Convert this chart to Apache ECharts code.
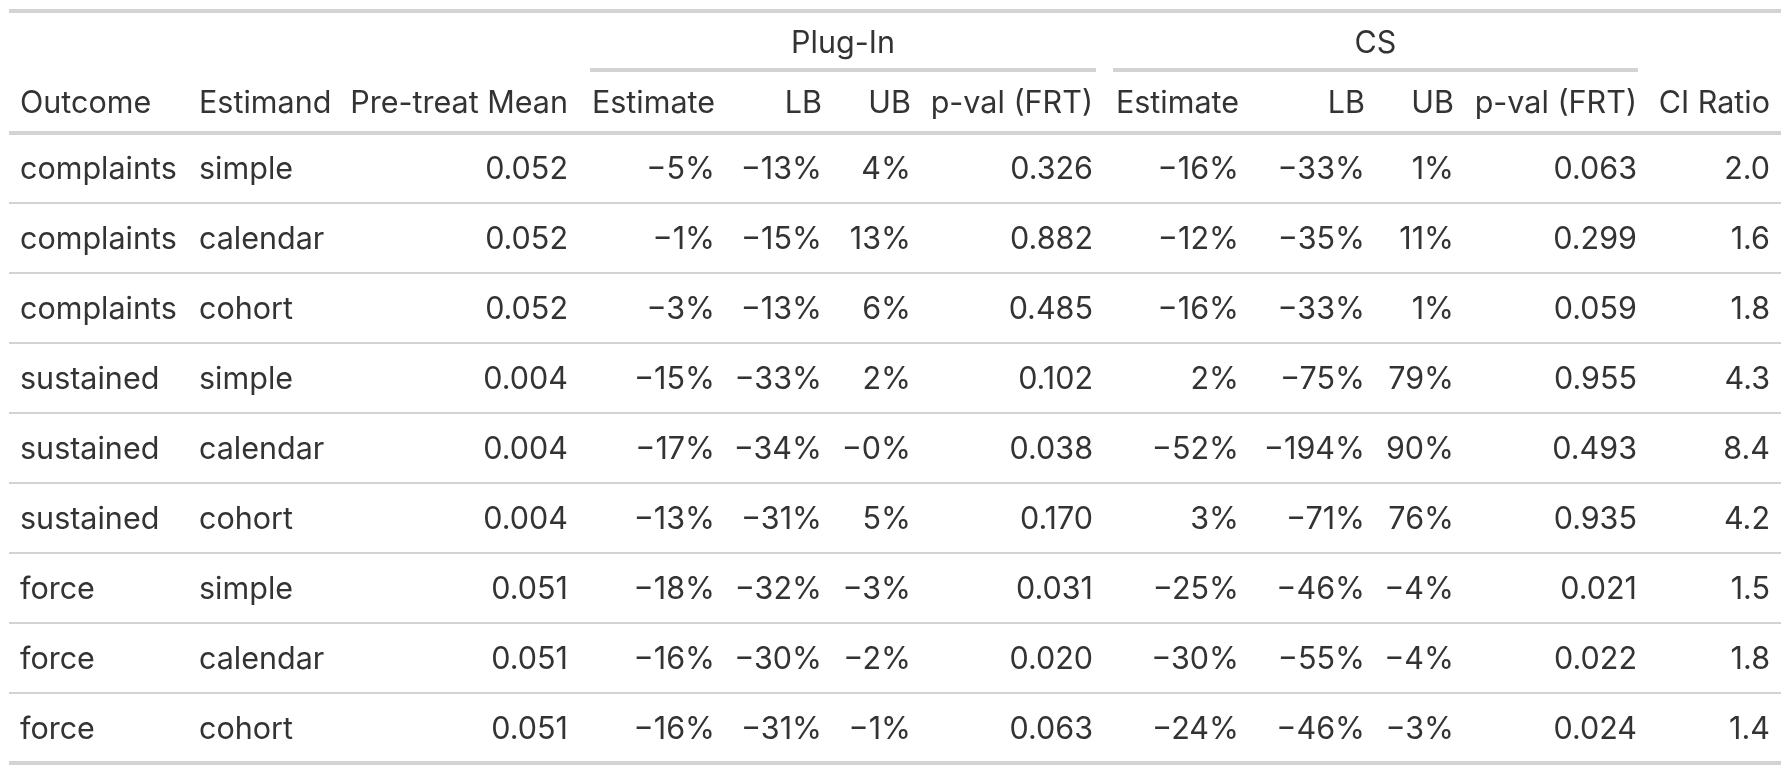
<!DOCTYPE html>
<html>
<head>
<meta charset="utf-8">
<script src="https://cdn.jsdelivr.net/npm/echarts@6/dist/echarts.min.js"></script>
<style>
  html, body { margin: 0; padding: 0; background: #fff; }
  #main { width: 1790px; height: 774px; }
</style>
</head>
<body>
<div id="main"></div>
<script>
// table values
const outcomes = ['complaints', 'complaints', 'complaints', 'sustained', 'sustained', 'sustained', 'force', 'force', 'force'];
const estimands = ['simple', 'calendar', 'cohort', 'simple', 'calendar', 'cohort', 'simple', 'calendar', 'cohort'];
const preMean = [0.052, 0.052, 0.052, 0.004, 0.004, 0.004, 0.051, 0.051, 0.051];
const plugEst = [-5, -1, -3, -15, -17, -13, -18, -16, -16];
const plugLB = [-13, -15, -13, -33, -34, -31, -32, -30, -31];
const plugUB = [4, 13, 6, 2, -0, 5, -3, -2, -1];
const plugP = [0.326, 0.882, 0.485, 0.102, 0.038, 0.170, 0.031, 0.020, 0.063];
const csEst = [-16, -12, -16, 2, -52, 3, -25, -30, -24];
const csLB = [-33, -35, -33, -75, -194, -71, -46, -55, -46];
const csUB = [1, 11, 1, 79, 90, 76, -4, -4, -3];
const csP = [0.063, 0.299, 0.059, 0.955, 0.493, 0.935, 0.021, 0.022, 0.024];
const ciRatio = [2.0, 1.6, 1.8, 4.3, 8.4, 4.2, 1.5, 1.8, 1.4];

const spanners = ['Plug-In', 'CS'];
const colLabels = ['Outcome', 'Estimand', 'Pre-treat Mean', 'Estimate', 'LB', 'UB', 'p-val (FRT)',
  'Estimate', 'LB', 'UB', 'p-val (FRT)', 'CI Ratio'];

// layout (pixels on the x axis, row units on the y axis)
const colX = [20, 199, 568, 715, 822, 911, 1093, 1239, 1365, 1454, 1637, 1770];
const colAlign = ['left', 'left', 'right', 'right', 'right', 'right', 'right', 'right', 'right', 'right', 'right', 'right'];
const spanX = [[590, 1096], [1113, 1638]];
const tableX = [9, 1781];
const rowTop = 168, rowH = 70;
const headerRow = -0.95, spannerRow = -1.8, spannerLineRow = -1.4, topRow = -2.243;

const pct = v => ((v < 0 || Object.is(v, -0)) ? '\u2212' : '') + Math.abs(v) + '%';

const cols = [
  outcomes, estimands,
  preMean.map(v => v.toFixed(3)),
  plugEst.map(pct), plugLB.map(pct), plugUB.map(pct), plugP.map(v => v.toFixed(3)),
  csEst.map(pct), csLB.map(pct), csUB.map(pct), csP.map(v => v.toFixed(3)),
  ciRatio.map(v => v.toFixed(1))
];

const cells = [];
cols.forEach((col, c) => {
  cells.push([colX[c], headerRow, colLabels[c], colAlign[c]]);
  col.forEach((txt, r) => cells.push([colX[c], r, txt, colAlign[c]]));
});
spanners.forEach((s, i) => cells.push([(spanX[i][0] + spanX[i][1]) / 2, spannerRow, s, 'center']));

// horizontal rules: [x1, x2, row, width]
const rules = [
  [tableX[0], tableX[1], topRow, 4],
  [spanX[0][0], spanX[0][1], spannerLineRow, 4],
  [spanX[1][0], spanX[1][1], spannerLineRow, 4],
  [tableX[0], tableX[1], -0.5, 4]
];
outcomes.forEach((o, r) => {
  rules.push([tableX[0], tableX[1], r + 0.5, r === outcomes.length - 1 ? 4 : 2]);
});

const chart = echarts.init(document.getElementById('main'), null, { renderer: 'canvas' });
chart.setOption({
  animation: false,
  backgroundColor: '#ffffff',
  grid: { left: 0, right: 0, top: 0, bottom: 0 },
  xAxis: { type: 'value', min: 0, max: 1790, show: false },
  yAxis: {
    type: 'value', inverse: true, show: false,
    min: -rowTop / rowH, max: (774 - rowTop) / rowH
  },
  series: [
    {
      type: 'custom',
      data: rules,
      renderItem: (params, api) => {
        const a = api.coord([api.value(0), api.value(2)]);
        const b = api.coord([api.value(1), api.value(2)]);
        return {
          type: 'line',
          shape: { x1: a[0], y1: a[1], x2: b[0], y2: b[1] },
          style: { stroke: '#d3d3d3', lineWidth: api.value(3) }
        };
      }
    },
    {
      type: 'custom',
      data: cells,
      renderItem: (params, api) => {
        const p = api.coord([api.value(0), api.value(1)]);
        const d = cells[params.dataIndex];
        return {
          type: 'text',
          x: p[0], y: p[1] + 2,
          style: {
            text: d[2],
            fill: '#333333',
            font: '30.5px Inter',
            align: d[3],
            verticalAlign: 'middle'
          }
        };
      }
    }
  ]
});
</script>
</body>
</html>
